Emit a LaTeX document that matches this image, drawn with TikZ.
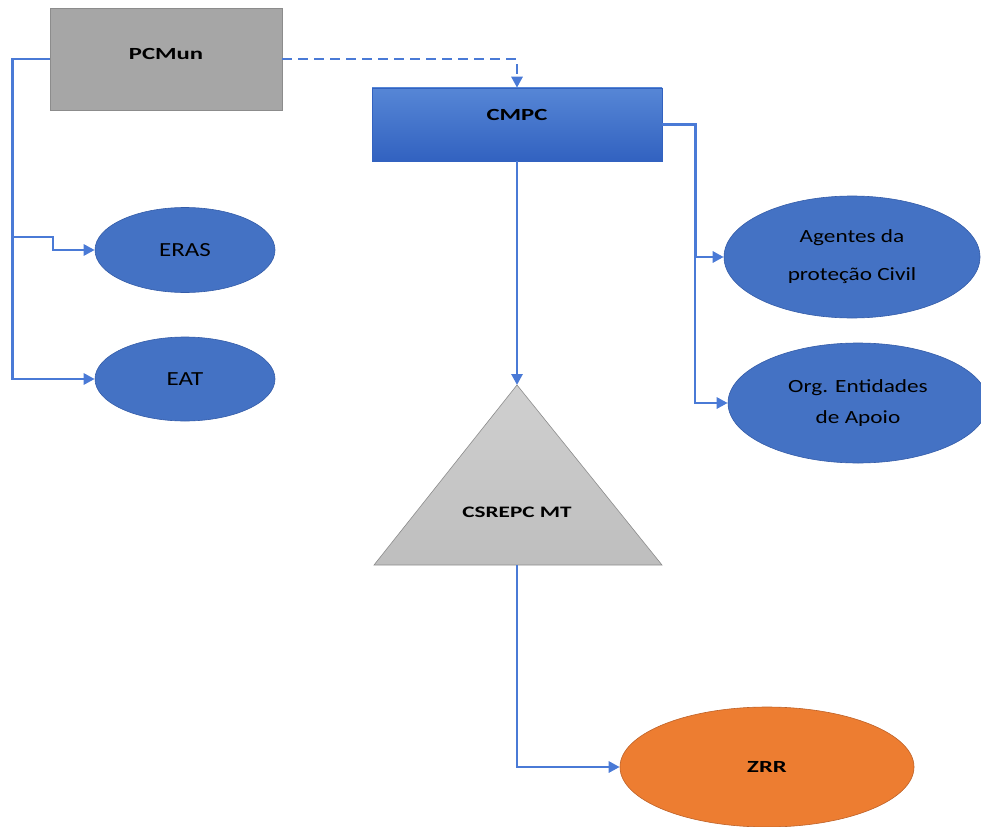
\documentclass[tikz,border=0pt]{standalone}
\usepackage{fontspec}
\setmainfont{Carlito}
\newfontfamily\lblfont[FakeStretch=1.25]{Carlito}
\newfontfamily\headfont[FakeStretch=1.45]{Carlito}
\usetikzlibrary{arrows.meta,shapes.geometric}

\definecolor{nodeblue}{RGB}{68,114,196}
\definecolor{ellborder}{RGB}{52,92,168}
\definecolor{linkblue}{RGB}{74,122,214}
\definecolor{boxgray}{RGB}{166,166,166}
\definecolor{boxgrayedge}{RGB}{140,140,140}
\definecolor{cmpctop}{RGB}{86,134,214}
\definecolor{cmpcbot}{RGB}{50,98,192}
\definecolor{tritop}{RGB}{208,208,208}
\definecolor{tribot}{RGB}{190,190,190}
\definecolor{zrrorange}{RGB}{237,125,49}
\definecolor{zrredge}{RGB}{190,98,40}

\begin{document}
\begin{tikzpicture}[x=1pt,y=-1pt,
  link/.style={draw=linkblue, line width=2.8pt, -{Triangle[length=11pt,width=11pt]}},
  headtext/.style={font={\headfont\bfseries\fontsize{17pt}{20pt}\selectfont}, text=black},
  bluebub/.style={ellipse, draw=ellborder, line width=0.6pt, fill=nodeblue,
    inner sep=0pt, text=black, align=center},
  graybox/.style={rectangle, draw=boxgrayedge, line width=0.6pt, fill=boxgray, inner sep=0pt}
]
\useasboundingbox (0,0) rectangle (981,826);

% command post and municipal commission
\node[graybox, headtext, minimum width=232pt, minimum height=102pt,
  text height=12pt, text depth=10pt] (pcmun) at (166,59) {PCMun};
\node[rectangle, draw=cmpcbot, line width=0.6pt, top color=cmpctop, bottom color=cmpcbot,
  inner sep=0pt, minimum width=290pt, minimum height=73pt, headtext,
  text height=12pt, text depth=19pt] (cmpc) at (517,124.5) {CMPC};

% left-hand teams
\node[bluebub, minimum width=180pt, minimum height=85pt,
  font={\lblfont\fontsize{20pt}{24pt}\selectfont}] (eras) at (185,250) {ERAS};
\node[bluebub, minimum width=180pt, minimum height=84pt,
  font={\lblfont\fontsize{20pt}{24pt}\selectfont}] (eat) at (185,379) {EAT};

% right-hand agencies
\node[bluebub, minimum width=256pt, minimum height=122pt,
  font={\lblfont\fontsize{18.6pt}{38pt}\selectfont}] (agentes) at (852,257) {Agentes da\\proteção Civil};
\node[bluebub, minimum width=260pt, minimum height=120pt,
  font={\lblfont\fontsize{18.6pt}{31pt}\selectfont}] (org) at (858,403) {Org. Entidades\\de Apoio};

% regional sub-command triangle
\coordinate (csTop) at (517,385);
\coordinate (csL) at (374,565);
\coordinate (csR) at (662,565);
\coordinate (csBot) at (517,565);
\shade[top color=tritop, bottom color=tribot] (csTop) -- (csR) -- (csL) -- cycle;
\draw[boxgrayedge, line width=0.6pt, line join=miter] (csTop) -- (csR) -- (csL) -- cycle;
\node[headtext, font={\headfont\bfseries\fontsize{16pt}{19pt}\selectfont}, inner sep=0pt] (cs) at (517,512) {CSREPC MT};

% reception zone
\node[ellipse, draw=zrredge, line width=0.6pt, fill=zrrorange, inner sep=0pt,
  minimum width=294pt, minimum height=120pt, headtext] (zrr) at (767,767) {ZRR};

% connectors
\draw[link] (pcmun.west) -- ++(-37,0) |- (eat.west);
\coordinate (erasfork) at (13,237);
\draw[link] (erasfork) -- (53,237) |- (eras.west);
\draw[link, dash pattern=on 10pt off 6pt] (pcmun.east) -| (cmpc.north);
\draw[link] (cmpc.east) -- ++(33,0) |- (agentes.west);
\coordinate (rfork) at (695,257);
\draw[link] (rfork) |- (org.west);
\draw[link] (cmpc.south) -- (csTop);
\draw[link] (csBot) |- (zrr.west);
\end{tikzpicture}
\end{document}
